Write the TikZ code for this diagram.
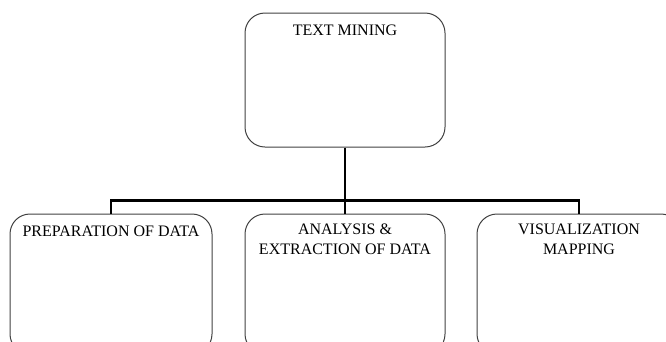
\documentclass[tikz,border=0pt]{standalone}
\usepackage{fontspec}
\setmainfont{Liberation Serif}
\usetikzlibrary{positioning}
\begin{document}
\begin{tikzpicture}[x=1pt, y=-1pt, line join = round, line cap = round,
	box/.style = {draw=black!75, line width=1pt, rounded corners=20pt, inner sep=0pt},
	boxtext/.style = {inner sep=0pt, align=center, font=\fontsize{16}{20}\selectfont},
	conn/.style = {line width=2.6pt, black, line cap=butt, line join=miter}]
		%Khung và vùng cắt
		\useasboundingbox (0,0) rectangle (666,341);
		\clip (0,0) rectangle (666,341);
		%Các hộp
		\node[box, minimum width=200pt, minimum height=134pt] (mining) at (345,80) {};
		\node[box, minimum width=202pt, minimum height=140pt] (prep) at (111,284) {};
		\node[box, minimum width=200pt, minimum height=140pt] (analysis) at (345,284) {};
		\node[box, minimum width=204pt, minimum height=140pt] (visual) at (579,284) {};
		%Chữ trong hộp
		\node[boxtext, below=12pt of mining.north] (miningtext) {TEXT MINING};
		\node[boxtext, below=12pt of prep.north] (preptext) {PREPARATION OF DATA};
		\node[boxtext, below=10pt of analysis.north] (analysistext) {ANALYSIS \&\\EXTRACTION OF DATA};
		\node[boxtext, below=10pt of visual.north] (visualtext) {VISUALIZATION\\MAPPING};
		%Các đường nối
		\draw[conn] (mining.south) -- ++(0,53) coordinate (hub);
		\draw[conn] (prep.north) |- (hub) -| (visual.north);
		\draw[conn] (hub) -- (analysis.north);
	\end{tikzpicture}
\end{document}
